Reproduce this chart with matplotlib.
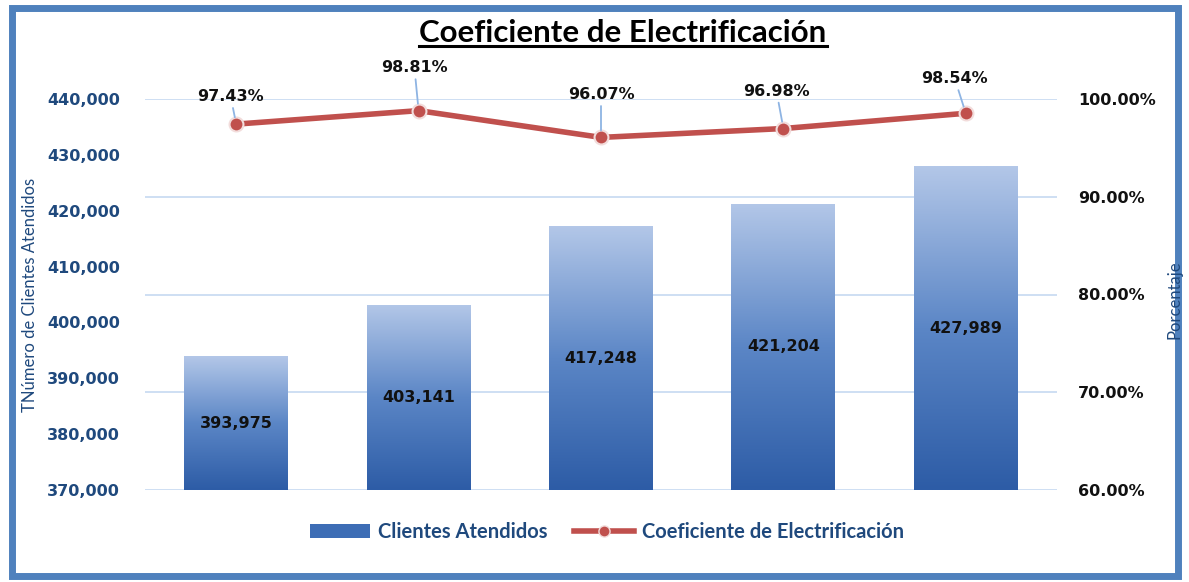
import numpy as np
import matplotlib
matplotlib.use("Agg")
import matplotlib.pyplot as plt
from matplotlib.patches import Patch, Rectangle
from matplotlib.lines import Line2D
from matplotlib.colors import LinearSegmentedColormap

# data
categories = ["2011", "2012", "2013", "2014", "2015"]
clientes = [393975, 403141, 417248, 421204, 427989]
coeficiente = [97.43, 98.81, 96.07, 96.98, 98.54]

DARK_BLUE = "#1F497D"
RED = "#C0504D"

fig = plt.figure(figsize=(11.89, 5.82), dpi=100)
ax = fig.add_axes([145 / 1189, 1 - 490 / 582, 912 / 1189, 391 / 582])
ax2 = ax.twinx()
ax.set_zorder(1)
ax2.set_zorder(2)
ax.patch.set_visible(False)

x = np.arange(len(categories))

# bars with vertical gradient
bars = ax.bar(x, clientes, width=0.57, color="none", edgecolor="none", zorder=2)
cmap = LinearSegmentedColormap.from_list("bluegrad", ["#2D5CA6", "#5B86C6", "#B3C7E8"])
grad = np.linspace(0, 1, 256).reshape(-1, 1)
for b in bars:
    x0, w, h = b.get_x(), b.get_width(), b.get_height()
    im = ax.imshow(grad, cmap=cmap, aspect="auto", origin="lower",
                   extent=[x0, x0 + w, 370000, h], zorder=2)
    im.set_clip_path(b)

for xi, v in zip(x, clientes):
    ax.text(xi, (370000 + v) / 2, f"{v:,}", ha="center", va="center",
            fontsize=11.5, fontweight="bold", color="#111111", zorder=4)

ax.set_xlim(-0.5, len(categories) - 0.5)
ax.set_ylim(370000, 440000)
ax.set_yticks(range(370000, 440001, 10000))
ax.set_yticklabels([f"{t:,}" for t in range(370000, 440001, 10000)])
ax.set_xticks([])
ax.tick_params(axis="y", length=0, pad=18, labelsize=11.5, labelcolor=DARK_BLUE)
for lbl in ax.get_yticklabels():
    lbl.set_fontweight("bold")

# right axis: line
ax2.set_ylim(60, 100)
ax2.set_yticks([60, 70, 80, 90, 100])
ax2.set_yticklabels([f"{t:.2f}%" for t in [60, 70, 80, 90, 100]])
ax2.tick_params(axis="y", length=0, pad=15, labelsize=11.5, labelcolor="#111111")
for lbl in ax2.get_yticklabels():
    lbl.set_fontweight("bold")
for t in [60, 70, 80, 90, 100]:
    ax.axhline(370000 + (t - 60) / 40 * 70000, color="#C6D9F1", lw=1.2, zorder=1)

ax2.plot(x, coeficiente, color=RED, lw=4, marker="o", markersize=10,
         markerfacecolor=RED, markeredgecolor="#F2DCDB", markeredgewidth=1.5,
         zorder=3, solid_capstyle="round")

# label offsets in points (dx, dy) from each point to label centre
offsets = [(-4, 20), (-3, 31), (0, 31), (-5, 27), (-8, 25)]
for xi, v, off in zip(x, coeficiente, offsets):
    ax2.annotate(f"{v:.2f}%", xy=(xi, v), xytext=off, textcoords="offset points",
                 ha="center", va="center", fontsize=11.5, fontweight="bold",
                 color="#111111", annotation_clip=False,
                 arrowprops=dict(arrowstyle="-", color="#8EB4E3", lw=1.3,
                                 shrinkA=1, shrinkB=5))

for a in (ax, ax2):
    for s in a.spines.values():
        s.set_visible(False)

fig.text(30 / 1189, 1 - 295 / 582, "TNúmero de Clientes Atendidos", color=DARK_BLUE,
         fontsize=12, family="Lato", rotation=90, ha="center", va="center")
fig.text(1175 / 1189, 1 - 300 / 582, "Porcentaje", color=DARK_BLUE,
         fontsize=12, family="Lato", rotation=90, ha="center", va="center")

# title with underline
title = fig.text(623 / 1189, 1 - 33 / 582, "Coeficiente de Electrificación",
                 ha="center", va="center", fontsize=22.5, fontweight="bold",
                 family="Lato", color="#000000")
fig.canvas.draw()
bb = title.get_window_extent().transformed(fig.transFigure.inverted())
fig.add_artist(Line2D([bb.x0, bb.x1], [bb.y0 + 0.002, bb.y0 + 0.002],
                      color="#000000", lw=2.2, transform=fig.transFigure))

# legend
handles = [Patch(facecolor="#3D6DB5", edgecolor="none"),
           Line2D([0], [0], color=RED, lw=4, marker="o", markersize=8,
                  markerfacecolor=RED, markeredgecolor="#F2DCDB")]
leg = fig.legend(handles, ["Clientes Atendidos", "Coeficiente de Electrificación"],
                 loc="center", bbox_to_anchor=(607 / 1189, 1 - 532 / 582), ncol=2,
                 frameon=False, handlelength=3.0, handletextpad=0.4,
                 columnspacing=1.3,
                 prop={"family": "Lato", "weight": "bold", "size": 14.5})
for t in leg.get_texts():
    t.set_color(DARK_BLUE)

# outer frame
fig.add_artist(Rectangle((12 / 1189, 6 / 582), 1166 / 1189, 568 / 582,
                         transform=fig.transFigure, fill=False,
                         edgecolor="#4F81BD", lw=5))

fig.savefig("out.png", dpi=100)
